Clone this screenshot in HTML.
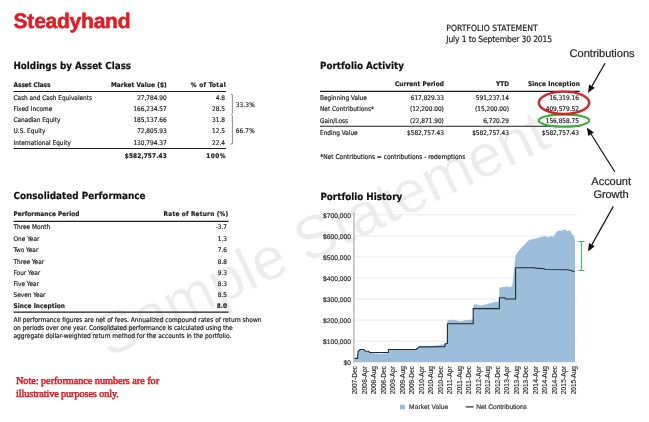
<!DOCTYPE html>
<html lang="en"><head><meta charset="utf-8"><title>Steadyhand Portfolio Statement</title>
<style>
html,body{margin:0;padding:0;background:#fff;}
#pg{position:relative;width:649px;height:422px;overflow:hidden;background:#fff;}
#pg svg{position:absolute;left:0;top:0;}
#pg span{text-rendering:geometricPrecision;-webkit-text-stroke:0.18px currentColor;}
#ly{position:absolute;left:0;top:0;width:649px;height:422px;will-change:transform;}
</style></head><body>
<div id="pg"><div id="ly">
<svg width="649" height="422" viewBox="0 0 649 422">
<text x='0' y='0' transform='matrix(0.9024,-0.4308,0.4308,0.9024,108.34,358.22)' font-family='"Liberation Sans",sans-serif' font-size='59.9' fill='#ececec' stroke='#fff' stroke-width='0.3'>Sample Statement</text>
<line x1='354' x2='577' y1='362.20' y2='362.20' stroke='#e9e9e9' stroke-width='1'/>
<line x1='354' x2='577' y1='341.15' y2='341.15' stroke='#e9e9e9' stroke-width='1'/>
<line x1='354' x2='577' y1='320.10' y2='320.10' stroke='#e9e9e9' stroke-width='1'/>
<line x1='354' x2='577' y1='299.05' y2='299.05' stroke='#e9e9e9' stroke-width='1'/>
<line x1='354' x2='577' y1='278.00' y2='278.00' stroke='#e9e9e9' stroke-width='1'/>
<line x1='354' x2='577' y1='256.95' y2='256.95' stroke='#e9e9e9' stroke-width='1'/>
<line x1='354' x2='577' y1='235.90' y2='235.90' stroke='#e9e9e9' stroke-width='1'/>
<line x1='354' x2='577' y1='214.85' y2='214.85' stroke='#e9e9e9' stroke-width='1'/>
<path d='M354.2,362.1 L354.2,358.0 L357.3,357.5 L358.1,351.0 L360.2,349.0 L363.9,349.0 L365.5,350.5 L369.0,351.5 L371.5,353.0 L380.0,353.8 L388.0,353.2 L389.0,350.2 L400.0,349.8 L416.0,349.2 L419.3,346.5 L430.0,346.0 L438.0,345.2 L444.0,344.0 L445.3,343.0 L447.2,342.5 L447.6,320.2 L452.0,319.8 L457.0,320.6 L461.0,321.4 L465.0,320.3 L471.0,319.8 L473.2,319.0 L473.7,304.6 L476.1,304.2 L480.1,305.8 L488.2,303.8 L496.2,301.8 L499.0,301.4 L499.4,287.7 L506.3,286.5 L510.3,287.3 L512.3,285.7 L515.6,255.6 L517.8,252.0 L521.3,247.8 L524.9,244.2 L528.4,240.6 L532.0,239.2 L535.6,238.5 L539.1,237.5 L542.7,236.4 L545.5,236.1 L546.9,237.5 L549.8,236.4 L551.9,236.1 L553.3,237.1 L555.5,233.5 L556.9,231.4 L559.0,230.4 L561.2,230.7 L563.3,230.0 L565.4,229.3 L566.6,231.0 L568.3,230.7 L569.7,230.0 L571.1,232.8 L573.3,235.2 L574.7,238.5 L575.0,240.5 L575.0,362.1 Z' fill='#9cbeda'/>
<path d='M354.7,358.4 L357.5,358.4 L358.1,351.4 L360.2,349.5 L363.9,349.5 L364.9,351.0 L368.8,351.2 L369.6,352.5 L388.4,352.5 L388.4,349.5 L416.1,349.5 L419.3,346.9 L444.8,346.7 L445.3,343.9 L447.4,343.5 L447.4,323.7 L473.2,323.7 L473.2,308.6 L499.4,308.6 L499.4,297.7 L505.0,297.7 L505.5,299.0 L515.6,299.0 L515.6,267.7 L534.1,267.7 L535.6,268.1 L544.1,268.8 L545.5,269.5 L566.9,269.8 L571.1,270.5 L574.7,271.8' fill='none' stroke='#1c2a38' stroke-width='1.1' stroke-linejoin='round'/>
<line x1='353.9' x2='353.9' y1='212.5' y2='362.7' stroke='#b5b5b5' stroke-width='1.4'/>
<text transform='translate(357.40,366.1) rotate(-90)' text-anchor='end' font-family='"Liberation Sans",sans-serif' font-size='6.6' fill='#2a2a2a' stroke='#2a2a2a' stroke-width='0.15' textLength='28.2'>2007-Dec</text>
<text transform='translate(366.90,366.1) rotate(-90)' text-anchor='end' font-family='"Liberation Sans",sans-serif' font-size='6.6' fill='#2a2a2a' stroke='#2a2a2a' stroke-width='0.15' textLength='28.2'>2008-Apr</text>
<text transform='translate(376.41,366.1) rotate(-90)' text-anchor='end' font-family='"Liberation Sans",sans-serif' font-size='6.6' fill='#2a2a2a' stroke='#2a2a2a' stroke-width='0.15' textLength='28.2'>2008-Aug</text>
<text transform='translate(385.91,366.1) rotate(-90)' text-anchor='end' font-family='"Liberation Sans",sans-serif' font-size='6.6' fill='#2a2a2a' stroke='#2a2a2a' stroke-width='0.15' textLength='28.2'>2008-Dec</text>
<text transform='translate(395.42,366.1) rotate(-90)' text-anchor='end' font-family='"Liberation Sans",sans-serif' font-size='6.6' fill='#2a2a2a' stroke='#2a2a2a' stroke-width='0.15' textLength='28.2'>2009-Apr</text>
<text transform='translate(404.92,366.1) rotate(-90)' text-anchor='end' font-family='"Liberation Sans",sans-serif' font-size='6.6' fill='#2a2a2a' stroke='#2a2a2a' stroke-width='0.15' textLength='28.2'>2009-Aug</text>
<text transform='translate(414.42,366.1) rotate(-90)' text-anchor='end' font-family='"Liberation Sans",sans-serif' font-size='6.6' fill='#2a2a2a' stroke='#2a2a2a' stroke-width='0.15' textLength='28.2'>2009-Dec</text>
<text transform='translate(423.93,366.1) rotate(-90)' text-anchor='end' font-family='"Liberation Sans",sans-serif' font-size='6.6' fill='#2a2a2a' stroke='#2a2a2a' stroke-width='0.15' textLength='28.2'>2010-Apr</text>
<text transform='translate(433.43,366.1) rotate(-90)' text-anchor='end' font-family='"Liberation Sans",sans-serif' font-size='6.6' fill='#2a2a2a' stroke='#2a2a2a' stroke-width='0.15' textLength='28.2'>2010-Aug</text>
<text transform='translate(442.94,366.1) rotate(-90)' text-anchor='end' font-family='"Liberation Sans",sans-serif' font-size='6.6' fill='#2a2a2a' stroke='#2a2a2a' stroke-width='0.15' textLength='28.2'>2010-Dec</text>
<text transform='translate(452.44,366.1) rotate(-90)' text-anchor='end' font-family='"Liberation Sans",sans-serif' font-size='6.6' fill='#2a2a2a' stroke='#2a2a2a' stroke-width='0.15' textLength='28.2'>2011-Apr</text>
<text transform='translate(461.94,366.1) rotate(-90)' text-anchor='end' font-family='"Liberation Sans",sans-serif' font-size='6.6' fill='#2a2a2a' stroke='#2a2a2a' stroke-width='0.15' textLength='28.2'>2011-Aug</text>
<text transform='translate(471.45,366.1) rotate(-90)' text-anchor='end' font-family='"Liberation Sans",sans-serif' font-size='6.6' fill='#2a2a2a' stroke='#2a2a2a' stroke-width='0.15' textLength='28.2'>2011-Dec</text>
<text transform='translate(480.95,366.1) rotate(-90)' text-anchor='end' font-family='"Liberation Sans",sans-serif' font-size='6.6' fill='#2a2a2a' stroke='#2a2a2a' stroke-width='0.15' textLength='28.2'>2012-Apr</text>
<text transform='translate(490.46,366.1) rotate(-90)' text-anchor='end' font-family='"Liberation Sans",sans-serif' font-size='6.6' fill='#2a2a2a' stroke='#2a2a2a' stroke-width='0.15' textLength='28.2'>2012-Aug</text>
<text transform='translate(499.96,366.1) rotate(-90)' text-anchor='end' font-family='"Liberation Sans",sans-serif' font-size='6.6' fill='#2a2a2a' stroke='#2a2a2a' stroke-width='0.15' textLength='28.2'>2012-Dec</text>
<text transform='translate(509.46,366.1) rotate(-90)' text-anchor='end' font-family='"Liberation Sans",sans-serif' font-size='6.6' fill='#2a2a2a' stroke='#2a2a2a' stroke-width='0.15' textLength='28.2'>2013-Apr</text>
<text transform='translate(518.97,366.1) rotate(-90)' text-anchor='end' font-family='"Liberation Sans",sans-serif' font-size='6.6' fill='#2a2a2a' stroke='#2a2a2a' stroke-width='0.15' textLength='28.2'>2013-Aug</text>
<text transform='translate(528.47,366.1) rotate(-90)' text-anchor='end' font-family='"Liberation Sans",sans-serif' font-size='6.6' fill='#2a2a2a' stroke='#2a2a2a' stroke-width='0.15' textLength='28.2'>2013-Dec</text>
<text transform='translate(537.98,366.1) rotate(-90)' text-anchor='end' font-family='"Liberation Sans",sans-serif' font-size='6.6' fill='#2a2a2a' stroke='#2a2a2a' stroke-width='0.15' textLength='28.2'>2014-Apr</text>
<text transform='translate(547.48,366.1) rotate(-90)' text-anchor='end' font-family='"Liberation Sans",sans-serif' font-size='6.6' fill='#2a2a2a' stroke='#2a2a2a' stroke-width='0.15' textLength='28.2'>2014-Aug</text>
<text transform='translate(556.98,366.1) rotate(-90)' text-anchor='end' font-family='"Liberation Sans",sans-serif' font-size='6.6' fill='#2a2a2a' stroke='#2a2a2a' stroke-width='0.15' textLength='28.2'>2014-Dec</text>
<text transform='translate(566.49,366.1) rotate(-90)' text-anchor='end' font-family='"Liberation Sans",sans-serif' font-size='6.6' fill='#2a2a2a' stroke='#2a2a2a' stroke-width='0.15' textLength='28.2'>2015-Apr</text>
<text transform='translate(575.99,366.1) rotate(-90)' text-anchor='end' font-family='"Liberation Sans",sans-serif' font-size='6.6' fill='#2a2a2a' stroke='#2a2a2a' stroke-width='0.15' textLength='28.2'>2015-Aug</text>
<rect x='400' y='404.6' width='5' height='4.8' fill='#9cbeda'/>
<line x1='465.7' x2='473.5' y1='406.9' y2='406.9' stroke='#222' stroke-width='1.2'/>
<path d='M578.3,241.4 H584.5 M581.4,241.4 V270.5 M578.3,270.5 H584.5' stroke='#4cb551' stroke-width='1.05' fill='none'/>
<line x1='13.5' x2='226' y1='91.5' y2='91.5' stroke='#1e1e1e' stroke-width='1.15'/>
<line x1='13.5' x2='226' y1='148.5' y2='148.5' stroke='#1e1e1e' stroke-width='1.15'/>
<line x1='320' x2='579.8' y1='91.3' y2='91.3' stroke='#1e1e1e' stroke-width='1.15'/>
<line x1='320' x2='579.8' y1='126.2' y2='126.2' stroke='#1e1e1e' stroke-width='1.15'/>
<line x1='13.5' x2='228.5' y1='221.4' y2='221.4' stroke='#1e1e1e' stroke-width='1.15'/>
<line x1='13.5' x2='228.5' y1='312.1' y2='312.1' stroke='#1e1e1e' stroke-width='1.15'/>
<path d='M230.7,94.7 H232.4 V113.4 L231.4,114.6 L232.4,115.8 V143.9 H230.7' stroke='#787878' stroke-width='0.85' fill='none'/>
</svg>
<span id='t0' style='position:absolute;white-space:nowrap;font-family:"Liberation Sans",sans-serif;font-weight:bold;font-size:21px;line-height:1;color:#e21b22;letter-spacing:-0.233px;left:13.60px;top:11.00px;-webkit-text-stroke:0.55px #e21b22;'>Steadyhand</span>
<span id='t1' style='position:absolute;white-space:nowrap;font-family:"DejaVu Sans Condensed","DejaVu Sans","Liberation Sans",sans-serif;font-weight:normal;font-size:8.5px;line-height:1;color:#222;letter-spacing:0.067px;left:446.30px;top:25.00px;'>PORTFOLIO STATEMENT</span>
<span id='t2' style='position:absolute;white-space:nowrap;font-family:"DejaVu Sans Condensed","DejaVu Sans","Liberation Sans",sans-serif;font-weight:normal;font-size:8.5px;line-height:1;color:#222;letter-spacing:-0.155px;left:446.30px;top:36.00px;'>July 1 to September 30 2015</span>
<span id='t3' style='position:absolute;white-space:nowrap;font-family:"DejaVu Sans Condensed","DejaVu Sans","Liberation Sans",sans-serif;font-weight:bold;font-size:9.8px;line-height:1;color:#111;letter-spacing:-0.031px;left:13.50px;top:62.00px;'>Holdings by Asset Class</span>
<span id='t4' style='position:absolute;white-space:nowrap;font-family:"DejaVu Sans Condensed","DejaVu Sans","Liberation Sans",sans-serif;font-weight:bold;font-size:9.8px;line-height:1;color:#111;letter-spacing:-0.008px;left:320.00px;top:62.00px;'>Portfolio Activity</span>
<span id='t5' style='position:absolute;white-space:nowrap;font-family:"DejaVu Sans Condensed","DejaVu Sans","Liberation Sans",sans-serif;font-weight:bold;font-size:9.8px;line-height:1;color:#111;letter-spacing:0.016px;left:13.50px;top:192.00px;'>Consolidated Performance</span>
<span id='t6' style='position:absolute;white-space:nowrap;font-family:"DejaVu Sans Condensed","DejaVu Sans","Liberation Sans",sans-serif;font-weight:bold;font-size:9.8px;line-height:1;color:#111;letter-spacing:-0.020px;left:320.40px;top:193.00px;'>Portfolio History</span>
<span id='t7' style='position:absolute;white-space:nowrap;font-family:"DejaVu Sans Condensed","DejaVu Sans","Liberation Sans",sans-serif;font-weight:bold;font-size:6.45px;line-height:1;color:#1a1a1a;letter-spacing:-0.013px;left:13.50px;top:82.00px;'>Asset Class</span>
<span id='t8' style='position:absolute;white-space:nowrap;font-family:"DejaVu Sans Condensed","DejaVu Sans","Liberation Sans",sans-serif;font-weight:bold;font-size:6.45px;line-height:1;color:#1a1a1a;letter-spacing:0.091px;left:111.00px;top:82.00px;'>Market Value ($)</span>
<span id='t9' style='position:absolute;white-space:nowrap;font-family:"DejaVu Sans Condensed","DejaVu Sans","Liberation Sans",sans-serif;font-weight:bold;font-size:6.45px;line-height:1;color:#1a1a1a;letter-spacing:0.322px;left:190.70px;top:82.00px;'>% of Total</span>
<span id='t10' style='position:absolute;white-space:nowrap;font-family:"DejaVu Sans Condensed","DejaVu Sans","Liberation Sans",sans-serif;font-weight:normal;font-size:6.45px;line-height:1;color:#1a1a1a;letter-spacing:-0.009px;left:13.50px;top:95.00px;'>Cash and Cash Equivalents</span>
<span id='t11' style='position:absolute;white-space:nowrap;font-family:"DejaVu Sans Condensed","DejaVu Sans","Liberation Sans",sans-serif;font-weight:normal;font-size:6.45px;line-height:1;color:#1a1a1a;letter-spacing:0.000px;left:137.13px;top:95.00px;'>27,784.90</span>
<span id='t12' style='position:absolute;white-space:nowrap;font-family:"DejaVu Sans Condensed","DejaVu Sans","Liberation Sans",sans-serif;font-weight:normal;font-size:6.45px;line-height:1;color:#1a1a1a;letter-spacing:0.000px;left:215.78px;top:95.00px;'>4.8</span>
<span id='t13' style='position:absolute;white-space:nowrap;font-family:"DejaVu Sans Condensed","DejaVu Sans","Liberation Sans",sans-serif;font-weight:normal;font-size:6.45px;line-height:1;color:#1a1a1a;letter-spacing:0.067px;left:13.50px;top:106.00px;'>Fixed Income</span>
<span id='t14' style='position:absolute;white-space:nowrap;font-family:"DejaVu Sans Condensed","DejaVu Sans","Liberation Sans",sans-serif;font-weight:normal;font-size:6.45px;line-height:1;color:#1a1a1a;letter-spacing:0.000px;left:133.44px;top:106.00px;'>166,234.57</span>
<span id='t15' style='position:absolute;white-space:nowrap;font-family:"DejaVu Sans Condensed","DejaVu Sans","Liberation Sans",sans-serif;font-weight:normal;font-size:6.45px;line-height:1;color:#1a1a1a;letter-spacing:0.000px;left:212.09px;top:106.00px;'>28.5</span>
<span id='t16' style='position:absolute;white-space:nowrap;font-family:"DejaVu Sans Condensed","DejaVu Sans","Liberation Sans",sans-serif;font-weight:normal;font-size:6.45px;line-height:1;color:#1a1a1a;letter-spacing:-0.046px;left:13.50px;top:117.00px;'>Canadian Equity</span>
<span id='t17' style='position:absolute;white-space:nowrap;font-family:"DejaVu Sans Condensed","DejaVu Sans","Liberation Sans",sans-serif;font-weight:normal;font-size:6.45px;line-height:1;color:#1a1a1a;letter-spacing:0.000px;left:133.44px;top:117.00px;'>185,137.66</span>
<span id='t18' style='position:absolute;white-space:nowrap;font-family:"DejaVu Sans Condensed","DejaVu Sans","Liberation Sans",sans-serif;font-weight:normal;font-size:6.45px;line-height:1;color:#1a1a1a;letter-spacing:0.000px;left:212.09px;top:117.00px;'>31.8</span>
<span id='t19' style='position:absolute;white-space:nowrap;font-family:"DejaVu Sans Condensed","DejaVu Sans","Liberation Sans",sans-serif;font-weight:normal;font-size:6.45px;line-height:1;color:#1a1a1a;letter-spacing:0.023px;left:13.50px;top:128.00px;'>U.S. Equity</span>
<span id='t20' style='position:absolute;white-space:nowrap;font-family:"DejaVu Sans Condensed","DejaVu Sans","Liberation Sans",sans-serif;font-weight:normal;font-size:6.45px;line-height:1;color:#1a1a1a;letter-spacing:0.000px;left:137.13px;top:128.00px;'>72,805.93</span>
<span id='t21' style='position:absolute;white-space:nowrap;font-family:"DejaVu Sans Condensed","DejaVu Sans","Liberation Sans",sans-serif;font-weight:normal;font-size:6.45px;line-height:1;color:#1a1a1a;letter-spacing:0.000px;left:212.09px;top:128.00px;'>12.5</span>
<span id='t22' style='position:absolute;white-space:nowrap;font-family:"DejaVu Sans Condensed","DejaVu Sans","Liberation Sans",sans-serif;font-weight:normal;font-size:6.45px;line-height:1;color:#1a1a1a;letter-spacing:0.015px;left:13.50px;top:140.00px;'>International Equity</span>
<span id='t23' style='position:absolute;white-space:nowrap;font-family:"DejaVu Sans Condensed","DejaVu Sans","Liberation Sans",sans-serif;font-weight:normal;font-size:6.45px;line-height:1;color:#1a1a1a;letter-spacing:0.000px;left:133.44px;top:140.00px;'>130,794.37</span>
<span id='t24' style='position:absolute;white-space:nowrap;font-family:"DejaVu Sans Condensed","DejaVu Sans","Liberation Sans",sans-serif;font-weight:normal;font-size:6.45px;line-height:1;color:#1a1a1a;letter-spacing:0.000px;left:212.09px;top:140.00px;'>22.4</span>
<span id='t25' style='position:absolute;white-space:nowrap;font-family:"DejaVu Sans Condensed","DejaVu Sans","Liberation Sans",sans-serif;font-weight:bold;font-size:6.45px;line-height:1;color:#1a1a1a;letter-spacing:0.121px;left:124.80px;top:153.00px;'>$582,757.43</span>
<span id='t26' style='position:absolute;white-space:nowrap;font-family:"DejaVu Sans Condensed","DejaVu Sans","Liberation Sans",sans-serif;font-weight:bold;font-size:6.45px;line-height:1;color:#1a1a1a;letter-spacing:0.473px;left:206.20px;top:153.00px;'>100%</span>
<span id='t27' style='position:absolute;white-space:nowrap;font-family:"DejaVu Sans Condensed","DejaVu Sans","Liberation Sans",sans-serif;font-weight:normal;font-size:6.45px;line-height:1;color:#1a1a1a;letter-spacing:0.159px;left:235.70px;top:102.00px;'>33.3%</span>
<span id='t28' style='position:absolute;white-space:nowrap;font-family:"DejaVu Sans Condensed","DejaVu Sans","Liberation Sans",sans-serif;font-weight:normal;font-size:6.45px;line-height:1;color:#1a1a1a;letter-spacing:0.159px;left:235.70px;top:128.00px;'>66.7%</span>
<span id='t29' style='position:absolute;white-space:nowrap;font-family:"DejaVu Sans Condensed","DejaVu Sans","Liberation Sans",sans-serif;font-weight:bold;font-size:6.45px;line-height:1;color:#1a1a1a;letter-spacing:0.059px;left:395.00px;top:81.00px;'>Current Period</span>
<span id='t30' style='position:absolute;white-space:nowrap;font-family:"DejaVu Sans Condensed","DejaVu Sans","Liberation Sans",sans-serif;font-weight:bold;font-size:6.45px;line-height:1;color:#1a1a1a;letter-spacing:0.000px;left:496.03px;top:81.00px;'>YTD</span>
<span id='t31' style='position:absolute;white-space:nowrap;font-family:"DejaVu Sans Condensed","DejaVu Sans","Liberation Sans",sans-serif;font-weight:bold;font-size:6.45px;line-height:1;color:#1a1a1a;letter-spacing:0.114px;left:527.90px;top:81.00px;'>Since Inception</span>
<span id='t32' style='position:absolute;white-space:nowrap;font-family:"DejaVu Sans Condensed","DejaVu Sans","Liberation Sans",sans-serif;font-weight:normal;font-size:6.45px;line-height:1;color:#1a1a1a;letter-spacing:0.000px;left:320.00px;top:95.00px;'>Beginning Value</span>
<span id='t33' style='position:absolute;white-space:nowrap;font-family:"DejaVu Sans Condensed","DejaVu Sans","Liberation Sans",sans-serif;font-weight:normal;font-size:6.45px;line-height:1;color:#1a1a1a;letter-spacing:0.000px;left:410.74px;top:95.00px;'>617,829.33</span>
<span id='t34' style='position:absolute;white-space:nowrap;font-family:"DejaVu Sans Condensed","DejaVu Sans","Liberation Sans",sans-serif;font-weight:normal;font-size:6.45px;line-height:1;color:#1a1a1a;letter-spacing:0.000px;left:475.84px;top:95.00px;'>591,237.14</span>
<span id='t35' style='position:absolute;white-space:nowrap;font-family:"DejaVu Sans Condensed","DejaVu Sans","Liberation Sans",sans-serif;font-weight:normal;font-size:6.45px;line-height:1;color:#1a1a1a;letter-spacing:0.000px;left:549.43px;top:95.00px;'>16,319.16</span>
<span id='t36' style='position:absolute;white-space:nowrap;font-family:"DejaVu Sans Condensed","DejaVu Sans","Liberation Sans",sans-serif;font-weight:normal;font-size:6.45px;line-height:1;color:#1a1a1a;letter-spacing:0.000px;left:320.00px;top:106.00px;'>Net Contributions*</span>
<span id='t37' style='position:absolute;white-space:nowrap;font-family:"DejaVu Sans Condensed","DejaVu Sans","Liberation Sans",sans-serif;font-weight:normal;font-size:6.45px;line-height:1;color:#1a1a1a;letter-spacing:0.000px;left:409.90px;top:106.00px;'>(12,200.00)</span>
<span id='t38' style='position:absolute;white-space:nowrap;font-family:"DejaVu Sans Condensed","DejaVu Sans","Liberation Sans",sans-serif;font-weight:normal;font-size:6.45px;line-height:1;color:#1a1a1a;letter-spacing:0.000px;left:475.00px;top:106.00px;'>(15,200.00)</span>
<span id='t39' style='position:absolute;white-space:nowrap;font-family:"DejaVu Sans Condensed","DejaVu Sans","Liberation Sans",sans-serif;font-weight:normal;font-size:6.45px;line-height:1;color:#1a1a1a;letter-spacing:0.000px;left:545.74px;top:106.00px;'>409,579.52</span>
<span id='t40' style='position:absolute;white-space:nowrap;font-family:"DejaVu Sans Condensed","DejaVu Sans","Liberation Sans",sans-serif;font-weight:normal;font-size:6.45px;line-height:1;color:#1a1a1a;letter-spacing:0.000px;left:320.00px;top:118.00px;'>Gain/Loss</span>
<span id='t41' style='position:absolute;white-space:nowrap;font-family:"DejaVu Sans Condensed","DejaVu Sans","Liberation Sans",sans-serif;font-weight:normal;font-size:6.45px;line-height:1;color:#1a1a1a;letter-spacing:0.000px;left:409.90px;top:118.00px;'>(22,871.90)</span>
<span id='t42' style='position:absolute;white-space:nowrap;font-family:"DejaVu Sans Condensed","DejaVu Sans","Liberation Sans",sans-serif;font-weight:normal;font-size:6.45px;line-height:1;color:#1a1a1a;letter-spacing:0.000px;left:483.20px;top:118.00px;'>6,720.29</span>
<span id='t43' style='position:absolute;white-space:nowrap;font-family:"DejaVu Sans Condensed","DejaVu Sans","Liberation Sans",sans-serif;font-weight:normal;font-size:6.45px;line-height:1;color:#1a1a1a;letter-spacing:0.000px;left:545.74px;top:118.00px;'>156,858.75</span>
<span id='t44' style='position:absolute;white-space:nowrap;font-family:"DejaVu Sans Condensed","DejaVu Sans","Liberation Sans",sans-serif;font-weight:normal;font-size:6.45px;line-height:1;color:#1a1a1a;letter-spacing:0.000px;left:320.00px;top:130.00px;'>Ending Value</span>
<span id='t45' style='position:absolute;white-space:nowrap;font-family:"DejaVu Sans Condensed","DejaVu Sans","Liberation Sans",sans-serif;font-weight:normal;font-size:6.45px;line-height:1;color:#1a1a1a;letter-spacing:0.000px;left:407.06px;top:130.00px;'>$582,757.43</span>
<span id='t46' style='position:absolute;white-space:nowrap;font-family:"DejaVu Sans Condensed","DejaVu Sans","Liberation Sans",sans-serif;font-weight:normal;font-size:6.45px;line-height:1;color:#1a1a1a;letter-spacing:0.000px;left:472.16px;top:130.00px;'>$582,757.43</span>
<span id='t47' style='position:absolute;white-space:nowrap;font-family:"DejaVu Sans Condensed","DejaVu Sans","Liberation Sans",sans-serif;font-weight:normal;font-size:6.45px;line-height:1;color:#1a1a1a;letter-spacing:0.000px;left:542.06px;top:130.00px;'>$582,757.43</span>
<span id='t48' style='position:absolute;white-space:nowrap;font-family:"DejaVu Sans Condensed","DejaVu Sans","Liberation Sans",sans-serif;font-weight:normal;font-size:6.6px;line-height:1;color:#1a1a1a;letter-spacing:-0.026px;left:320.30px;top:154.00px;'>*Net Contributions = contributions - redemptions</span>
<span id='t49' style='position:absolute;white-space:nowrap;font-family:"DejaVu Sans Condensed","DejaVu Sans","Liberation Sans",sans-serif;font-weight:bold;font-size:6.45px;line-height:1;color:#1a1a1a;letter-spacing:0.052px;left:13.50px;top:211.00px;'>Performance Period</span>
<span id='t50' style='position:absolute;white-space:nowrap;font-family:"DejaVu Sans Condensed","DejaVu Sans","Liberation Sans",sans-serif;font-weight:bold;font-size:6.45px;line-height:1;color:#1a1a1a;letter-spacing:0.218px;left:163.60px;top:211.00px;'>Rate of Return (%)</span>
<span id='t51' style='position:absolute;white-space:nowrap;font-family:"DejaVu Sans Condensed","DejaVu Sans","Liberation Sans",sans-serif;font-weight:normal;font-size:6.45px;line-height:1;color:#1a1a1a;letter-spacing:0.000px;left:13.50px;top:224.00px;'>Three Month</span>
<span id='t52' style='position:absolute;white-space:nowrap;font-family:"DejaVu Sans Condensed","DejaVu Sans","Liberation Sans",sans-serif;font-weight:normal;font-size:6.45px;line-height:1;color:#1a1a1a;letter-spacing:0.000px;left:215.69px;top:224.00px;'>-3.7</span>
<span id='t53' style='position:absolute;white-space:nowrap;font-family:"DejaVu Sans Condensed","DejaVu Sans","Liberation Sans",sans-serif;font-weight:normal;font-size:6.45px;line-height:1;color:#1a1a1a;letter-spacing:0.000px;left:13.50px;top:236.00px;'>One Year</span>
<span id='t54' style='position:absolute;white-space:nowrap;font-family:"DejaVu Sans Condensed","DejaVu Sans","Liberation Sans",sans-serif;font-weight:normal;font-size:6.45px;line-height:1;color:#1a1a1a;letter-spacing:0.000px;left:217.78px;top:236.00px;'>1.3</span>
<span id='t55' style='position:absolute;white-space:nowrap;font-family:"DejaVu Sans Condensed","DejaVu Sans","Liberation Sans",sans-serif;font-weight:normal;font-size:6.45px;line-height:1;color:#1a1a1a;letter-spacing:0.000px;left:13.50px;top:247.00px;'>Two Year</span>
<span id='t56' style='position:absolute;white-space:nowrap;font-family:"DejaVu Sans Condensed","DejaVu Sans","Liberation Sans",sans-serif;font-weight:normal;font-size:6.45px;line-height:1;color:#1a1a1a;letter-spacing:0.000px;left:217.78px;top:247.00px;'>7.6</span>
<span id='t57' style='position:absolute;white-space:nowrap;font-family:"DejaVu Sans Condensed","DejaVu Sans","Liberation Sans",sans-serif;font-weight:normal;font-size:6.45px;line-height:1;color:#1a1a1a;letter-spacing:0.000px;left:13.50px;top:259.00px;'>Three Year</span>
<span id='t58' style='position:absolute;white-space:nowrap;font-family:"DejaVu Sans Condensed","DejaVu Sans","Liberation Sans",sans-serif;font-weight:normal;font-size:6.45px;line-height:1;color:#1a1a1a;letter-spacing:0.000px;left:217.78px;top:259.00px;'>8.8</span>
<span id='t59' style='position:absolute;white-space:nowrap;font-family:"DejaVu Sans Condensed","DejaVu Sans","Liberation Sans",sans-serif;font-weight:normal;font-size:6.45px;line-height:1;color:#1a1a1a;letter-spacing:0.000px;left:13.50px;top:270.00px;'>Four Year</span>
<span id='t60' style='position:absolute;white-space:nowrap;font-family:"DejaVu Sans Condensed","DejaVu Sans","Liberation Sans",sans-serif;font-weight:normal;font-size:6.45px;line-height:1;color:#1a1a1a;letter-spacing:0.000px;left:217.78px;top:270.00px;'>9.3</span>
<span id='t61' style='position:absolute;white-space:nowrap;font-family:"DejaVu Sans Condensed","DejaVu Sans","Liberation Sans",sans-serif;font-weight:normal;font-size:6.45px;line-height:1;color:#1a1a1a;letter-spacing:0.000px;left:13.50px;top:281.00px;'>Five Year</span>
<span id='t62' style='position:absolute;white-space:nowrap;font-family:"DejaVu Sans Condensed","DejaVu Sans","Liberation Sans",sans-serif;font-weight:normal;font-size:6.45px;line-height:1;color:#1a1a1a;letter-spacing:0.000px;left:217.78px;top:281.00px;'>8.3</span>
<span id='t63' style='position:absolute;white-space:nowrap;font-family:"DejaVu Sans Condensed","DejaVu Sans","Liberation Sans",sans-serif;font-weight:normal;font-size:6.45px;line-height:1;color:#1a1a1a;letter-spacing:0.000px;left:13.50px;top:292.00px;'>Seven Year</span>
<span id='t64' style='position:absolute;white-space:nowrap;font-family:"DejaVu Sans Condensed","DejaVu Sans","Liberation Sans",sans-serif;font-weight:normal;font-size:6.45px;line-height:1;color:#1a1a1a;letter-spacing:0.000px;left:217.78px;top:292.00px;'>8.5</span>
<span id='t65' style='position:absolute;white-space:nowrap;font-family:"DejaVu Sans Condensed","DejaVu Sans","Liberation Sans",sans-serif;font-weight:bold;font-size:6.45px;line-height:1;color:#1a1a1a;letter-spacing:0.080px;left:13.50px;top:303.00px;'>Since Inception</span>
<span id='t66' style='position:absolute;white-space:nowrap;font-family:"DejaVu Sans Condensed","DejaVu Sans","Liberation Sans",sans-serif;font-weight:bold;font-size:6.45px;line-height:1;color:#1a1a1a;letter-spacing:0.000px;left:216.73px;top:303.00px;'>8.0</span>
<span id='t67' style='position:absolute;white-space:nowrap;font-family:"DejaVu Sans Condensed","DejaVu Sans","Liberation Sans",sans-serif;font-weight:normal;font-size:6.6px;line-height:1;color:#1a1a1a;letter-spacing:-0.022px;left:13.50px;top:317.00px;'>All performance figures are net of fees. Annualized compound rates of return shown</span>
<span id='t68' style='position:absolute;white-space:nowrap;font-family:"DejaVu Sans Condensed","DejaVu Sans","Liberation Sans",sans-serif;font-weight:normal;font-size:6.6px;line-height:1;color:#1a1a1a;letter-spacing:-0.078px;left:13.50px;top:325.00px;'>on periods over one year. Consolidated performance is calculated using the</span>
<span id='t69' style='position:absolute;white-space:nowrap;font-family:"DejaVu Sans Condensed","DejaVu Sans","Liberation Sans",sans-serif;font-weight:normal;font-size:6.6px;line-height:1;color:#1a1a1a;letter-spacing:-0.040px;left:13.50px;top:333.00px;'>aggregate dollar-weighted return method for the accounts in the portfolio.</span>
<span id='t70' style='position:absolute;white-space:nowrap;font-family:"Liberation Serif",serif;font-weight:normal;font-size:10.3px;line-height:1;color:#e01a22;letter-spacing:-0.068px;left:16.00px;top:377.00px;-webkit-text-stroke:0.5px #e01a22;'>Note: performance numbers are for</span>
<span id='t71' style='position:absolute;white-space:nowrap;font-family:"Liberation Serif",serif;font-weight:normal;font-size:10.3px;line-height:1;color:#e01a22;letter-spacing:-0.119px;left:16.00px;top:390.00px;-webkit-text-stroke:0.5px #e01a22;'>illustrative purposes only.</span>
<span id='t72' style='position:absolute;white-space:nowrap;font-family:"Liberation Sans",sans-serif;font-weight:normal;font-size:11.1px;line-height:1;color:#222;letter-spacing:-0.029px;left:569.60px;top:49.00px;'>Contributions</span>
<span id='t73' style='position:absolute;white-space:nowrap;font-family:"Liberation Sans",sans-serif;font-weight:normal;font-size:11.1px;line-height:1;color:#222;letter-spacing:-0.056px;left:591.30px;top:177.00px;'>Account</span>
<span id='t74' style='position:absolute;white-space:nowrap;font-family:"Liberation Sans",sans-serif;font-weight:normal;font-size:11.1px;line-height:1;color:#222;letter-spacing:-0.161px;left:593.60px;top:190.00px;'>Growth</span>
<span id='t75' style='position:absolute;white-space:nowrap;font-family:"Liberation Sans",sans-serif;font-weight:normal;font-size:6.7px;line-height:1;color:#2a2a2a;letter-spacing:0.000px;left:343.55px;top:361.00px;'>$0</span>
<span id='t76' style='position:absolute;white-space:nowrap;font-family:"Liberation Sans",sans-serif;font-weight:normal;font-size:6.7px;line-height:1;color:#2a2a2a;letter-spacing:0.000px;left:323.09px;top:340.00px;'>$100,000</span>
<span id='t77' style='position:absolute;white-space:nowrap;font-family:"Liberation Sans",sans-serif;font-weight:normal;font-size:6.7px;line-height:1;color:#2a2a2a;letter-spacing:0.000px;left:323.09px;top:319.00px;'>$200,000</span>
<span id='t78' style='position:absolute;white-space:nowrap;font-family:"Liberation Sans",sans-serif;font-weight:normal;font-size:6.7px;line-height:1;color:#2a2a2a;letter-spacing:0.000px;left:323.09px;top:298.00px;'>$300,000</span>
<span id='t79' style='position:absolute;white-space:nowrap;font-family:"Liberation Sans",sans-serif;font-weight:normal;font-size:6.7px;line-height:1;color:#2a2a2a;letter-spacing:0.000px;left:323.09px;top:277.00px;'>$400,000</span>
<span id='t80' style='position:absolute;white-space:nowrap;font-family:"Liberation Sans",sans-serif;font-weight:normal;font-size:6.7px;line-height:1;color:#2a2a2a;letter-spacing:0.000px;left:323.09px;top:256.00px;'>$500,000</span>
<span id='t81' style='position:absolute;white-space:nowrap;font-family:"Liberation Sans",sans-serif;font-weight:normal;font-size:6.7px;line-height:1;color:#2a2a2a;letter-spacing:0.000px;left:323.09px;top:235.00px;'>$600,000</span>
<span id='t82' style='position:absolute;white-space:nowrap;font-family:"Liberation Sans",sans-serif;font-weight:normal;font-size:6.7px;line-height:1;color:#2a2a2a;letter-spacing:0.000px;left:323.09px;top:214.00px;'>$700,000</span>
<span id='t83' style='position:absolute;white-space:nowrap;font-family:"Liberation Sans",sans-serif;font-weight:normal;font-size:6.65px;line-height:1;color:#333;letter-spacing:0.038px;left:409.10px;top:405.00px;'>Market Value</span>
<span id='t84' style='position:absolute;white-space:nowrap;font-family:"Liberation Sans",sans-serif;font-weight:normal;font-size:6.65px;line-height:1;color:#333;letter-spacing:-0.036px;left:476.20px;top:405.00px;'>Net Contributions</span>
<svg width="649" height="422" viewBox="0 0 649 422">
<ellipse cx='564' cy='120.6' rx='25.3' ry='6.2' fill='none' stroke='#3dab3a' stroke-width='2.1'/>
<ellipse cx='564' cy='102.8' rx='25.2' ry='11.15' fill='none' stroke='#d8232f' stroke-width='2.4'/>
<line x1='605.0' y1='63.2' x2='592.0' y2='86.1' stroke='#111' stroke-width='1.2'/>
<polygon points='588.0,93.0 589.1,84.4 594.8,87.7' fill='#111'/>
<line x1='614.8' y1='171.8' x2='591.1' y2='134.2' stroke='#111' stroke-width='1.2'/>
<polygon points='586.8,127.4 593.9,132.4 588.3,135.9' fill='#111'/>
<line x1='613.3' y1='206.4' x2='591.9' y2='244.6' stroke='#111' stroke-width='1.2'/>
<polygon points='588.0,251.6 589.0,243.0 594.8,246.2' fill='#111'/>
</svg>
</div></div>
</body></html>
